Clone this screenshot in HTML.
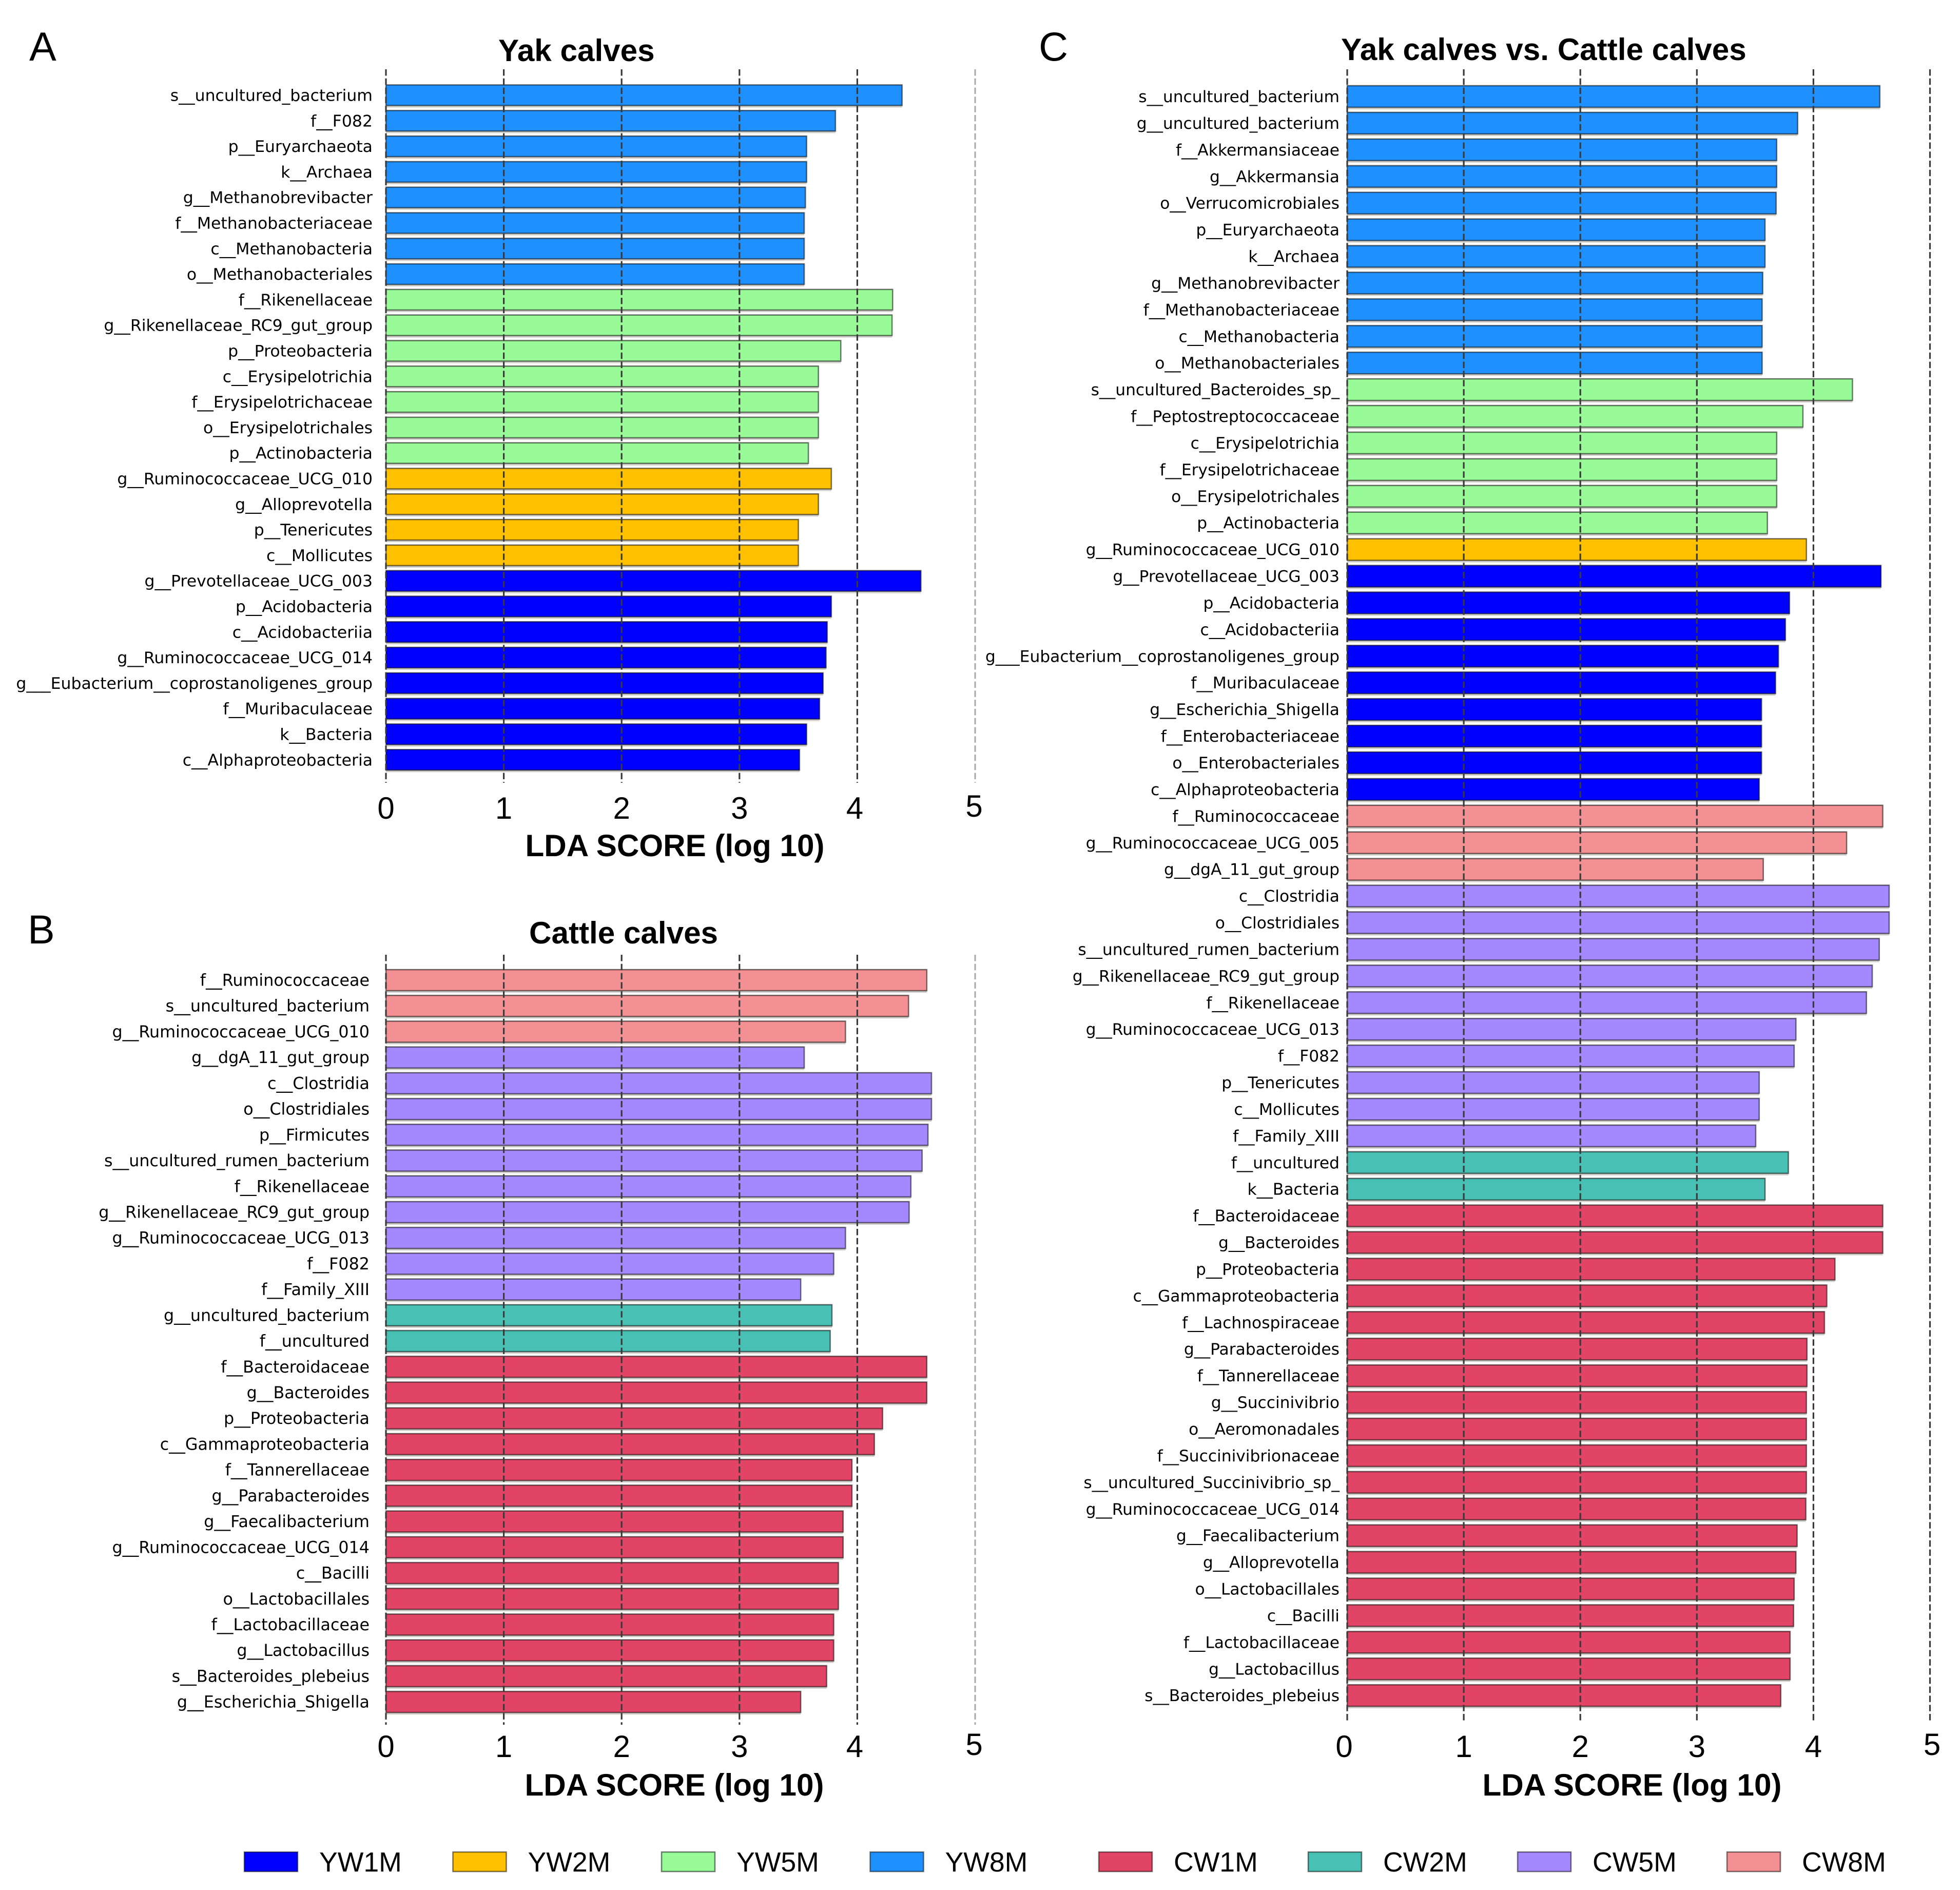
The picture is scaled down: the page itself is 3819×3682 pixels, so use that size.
<!DOCTYPE html>
<html lang="en">
<head>
<meta charset="utf-8">
<title>LDA score charts: yak calves and cattle calves</title>
<style>
  html, body { margin: 0; padding: 0; background: #fff; }
  svg { display: block; }
  text { fill: #000; }
  .taxon { font-family: "DejaVu Sans", sans-serif; text-anchor: end; }
  .tick { font-family: "Liberation Sans", sans-serif; font-size: 60px; text-anchor: middle; }
  .axis-title { font-family: "Liberation Sans", sans-serif; font-size: 60.2px; font-weight: bold; text-anchor: middle; }
  .title { font-family: "Liberation Sans", sans-serif; font-size: 60.2px; font-weight: bold; }
  .letter { font-family: "Liberation Sans", sans-serif; font-size: 79px; }
  .legend-label { font-family: "Liberation Sans", sans-serif; font-size: 53.6px; }
</style>
</head>
<body>
<svg id="chart" xmlns="http://www.w3.org/2000/svg" width="3819" height="3682" viewBox="0 0 3819 3682">
  <rect x="0" y="0" width="3819" height="3682" fill="#ffffff"/>
  <text class="letter" x="57" y="118">A</text>
  <text class="letter" x="54" y="1838">B</text>
  <text class="letter" x="2024" y="118">C</text>
  <text class="title" x="971" y="119">Yak calves</text>
  <text class="title" x="1031" y="1838">Cattle calves</text>
  <text class="title" x="2613" y="117">Yak calves vs. Cattle calves</text>
  <text class="axis-title" x="1315" y="1668">LDA SCORE (log 10)</text>
  <text class="axis-title" x="1314" y="3498">LDA SCORE (log 10)</text>
  <text class="axis-title" x="3180" y="3498">LDA SCORE (log 10)</text>
</svg>
<script>
const tickLabels = [0, 1, 2, 3, 4, 5];

const legendGroups = ["YW1M", "YW2M", "YW5M", "YW8M", "CW1M", "CW2M", "CW5M", "CW8M"];

const groupColors = {
  YW1M: "#0000ff", YW2M: "#ffc000", YW5M: "#98fb98", YW8M: "#1e90ff",
  CW1M: "#e24466", CW2M: "#48c0b4", CW5M: "#a488ff", CW8M: "#f39093"
};

const panelALabels = [
  "s__uncultured_bacterium", "f__F082", "p__Euryarchaeota", "k__Archaea", "g__Methanobrevibacter",
  "f__Methanobacteriaceae", "c__Methanobacteria", "o__Methanobacteriales",
  "f__Rikenellaceae", "g__Rikenellaceae_RC9_gut_group", "p__Proteobacteria", "c__Erysipelotrichia",
  "f__Erysipelotrichaceae", "o__Erysipelotrichales", "p__Actinobacteria",
  "g__Ruminococcaceae_UCG_010", "g__Alloprevotella", "p__Tenericutes", "c__Mollicutes",
  "g__Prevotellaceae_UCG_003", "p__Acidobacteria", "c__Acidobacteriia", "g__Ruminococcaceae_UCG_014",
  "g___Eubacterium__coprostanoligenes_group", "f__Muribaculaceae", "k__Bacteria", "c__Alphaproteobacteria"
];
const panelAValues = [
  4.38, 3.815, 3.57, 3.57, 3.56, 3.55, 3.55, 3.55,
  4.30, 4.295, 3.86, 3.67, 3.67, 3.67, 3.585,
  3.78, 3.67, 3.50, 3.50,
  4.54, 3.78, 3.745, 3.735, 3.71, 3.68, 3.57, 3.51
];
const panelAGroups = [
  "YW8M", "YW8M", "YW8M", "YW8M", "YW8M", "YW8M", "YW8M", "YW8M",
  "YW5M", "YW5M", "YW5M", "YW5M", "YW5M", "YW5M", "YW5M",
  "YW2M", "YW2M", "YW2M", "YW2M",
  "YW1M", "YW1M", "YW1M", "YW1M", "YW1M", "YW1M", "YW1M", "YW1M"
];

const panelBLabels = [
  "f__Ruminococcaceae", "s__uncultured_bacterium", "g__Ruminococcaceae_UCG_010",
  "g__dgA_11_gut_group", "c__Clostridia", "o__Clostridiales", "p__Firmicutes", "s__uncultured_rumen_bacterium",
  "f__Rikenellaceae", "g__Rikenellaceae_RC9_gut_group", "g__Ruminococcaceae_UCG_013", "f__F082", "f__Family_XIII",
  "g__uncultured_bacterium", "f__uncultured",
  "f__Bacteroidaceae", "g__Bacteroides", "p__Proteobacteria", "c__Gammaproteobacteria", "f__Tannerellaceae",
  "g__Parabacteroides", "g__Faecalibacterium", "g__Ruminococcaceae_UCG_014", "c__Bacilli", "o__Lactobacillales",
  "f__Lactobacillaceae", "g__Lactobacillus", "s__Bacteroides_plebeius", "g__Escherichia_Shigella"
];
const panelBValues = [
  4.59, 4.435, 3.90,
  3.55, 4.63, 4.63, 4.60, 4.55, 4.455, 4.44, 3.90, 3.80, 3.52,
  3.785, 3.77,
  4.59, 4.59, 4.215, 4.145, 3.955, 3.955, 3.88, 3.88, 3.84, 3.84, 3.80, 3.80, 3.74, 3.52
];
const panelBGroups = [
  "CW8M", "CW8M", "CW8M",
  "CW5M", "CW5M", "CW5M", "CW5M", "CW5M", "CW5M", "CW5M", "CW5M", "CW5M", "CW5M",
  "CW2M", "CW2M",
  "CW1M", "CW1M", "CW1M", "CW1M", "CW1M", "CW1M", "CW1M", "CW1M", "CW1M", "CW1M", "CW1M", "CW1M", "CW1M", "CW1M"
];

const panelCLabels = [
  "s__uncultured_bacterium", "g__uncultured_bacterium", "f__Akkermansiaceae", "g__Akkermansia", "o__Verrucomicrobiales",
  "p__Euryarchaeota", "k__Archaea", "g__Methanobrevibacter", "f__Methanobacteriaceae", "c__Methanobacteria", "o__Methanobacteriales",
  "s__uncultured_Bacteroides_sp_", "f__Peptostreptococcaceae", "c__Erysipelotrichia", "f__Erysipelotrichaceae", "o__Erysipelotrichales", "p__Actinobacteria",
  "g__Ruminococcaceae_UCG_010",
  "g__Prevotellaceae_UCG_003", "p__Acidobacteria", "c__Acidobacteriia", "g___Eubacterium__coprostanoligenes_group", "f__Muribaculaceae",
  "g__Escherichia_Shigella", "f__Enterobacteriaceae", "o__Enterobacteriales", "c__Alphaproteobacteria",
  "f__Ruminococcaceae", "g__Ruminococcaceae_UCG_005", "g__dgA_11_gut_group",
  "c__Clostridia", "o__Clostridiales", "s__uncultured_rumen_bacterium", "g__Rikenellaceae_RC9_gut_group", "f__Rikenellaceae",
  "g__Ruminococcaceae_UCG_013", "f__F082", "p__Tenericutes", "c__Mollicutes", "f__Family_XIII",
  "f__uncultured", "k__Bacteria",
  "f__Bacteroidaceae", "g__Bacteroides", "p__Proteobacteria", "c__Gammaproteobacteria", "f__Lachnospiraceae", "g__Parabacteroides",
  "f__Tannerellaceae", "g__Succinivibrio", "o__Aeromonadales", "f__Succinivibrionaceae", "s__uncultured_Succinivibrio_sp_",
  "g__Ruminococcaceae_UCG_014", "g__Faecalibacterium", "g__Alloprevotella", "o__Lactobacillales", "c__Bacilli",
  "f__Lactobacillaceae", "g__Lactobacillus", "s__Bacteroides_plebeius"
];
const panelCValues = [
  4.57, 3.865, 3.685, 3.685, 3.68, 3.585, 3.585, 3.565, 3.56, 3.56, 3.56,
  4.335, 3.91, 3.685, 3.685, 3.685, 3.605,
  3.94,
  4.58, 3.795, 3.76, 3.70, 3.675, 3.555, 3.555, 3.555, 3.535,
  4.595, 4.285, 3.57,
  4.65, 4.65, 4.565, 4.505, 4.455, 3.85, 3.835, 3.535, 3.535, 3.505,
  3.785, 3.585,
  4.595, 4.595, 4.185, 4.115, 4.095, 3.945, 3.945, 3.94, 3.94, 3.94, 3.94, 3.935, 3.86, 3.85, 3.835, 3.83, 3.80, 3.80, 3.72
];
const panelCGroups = [
  "YW8M", "YW8M", "YW8M", "YW8M", "YW8M", "YW8M", "YW8M", "YW8M", "YW8M", "YW8M", "YW8M",
  "YW5M", "YW5M", "YW5M", "YW5M", "YW5M", "YW5M",
  "YW2M",
  "YW1M", "YW1M", "YW1M", "YW1M", "YW1M", "YW1M", "YW1M", "YW1M", "YW1M",
  "CW8M", "CW8M", "CW8M",
  "CW5M", "CW5M", "CW5M", "CW5M", "CW5M", "CW5M", "CW5M", "CW5M", "CW5M", "CW5M",
  "CW2M", "CW2M",
  "CW1M", "CW1M", "CW1M", "CW1M", "CW1M", "CW1M", "CW1M", "CW1M", "CW1M", "CW1M", "CW1M",
  "CW1M", "CW1M", "CW1M", "CW1M", "CW1M", "CW1M", "CW1M", "CW1M"
];

const SVG_NS = "http://www.w3.org/2000/svg";
const svg = document.getElementById("chart");

function make(tag, attrs, parent) {
  const el = document.createElementNS(SVG_NS, tag);
  for (const k in attrs) el.setAttribute(k, attrs[k]);
  parent.appendChild(el);
  return el;
}

function drawPanel(id, labels, values, groups, geo) {
  const xScale = v => geo.x0 + v * geo.unit;
  const yScale = i => geo.y0 + i * geo.pitch;

  const root = make("g", {}, svg);
  
  

  labels.forEach((label, i) => {
    const top = yScale(i) - geo.barH / 2;
    const w = xScale(values[i]) - xScale(0);

    const halo = make("rect", { x: xScale(0), y: top - 1, width: w, height: geo.barH + 5, fill: "#d0cec9" }, root);
    
    

    const bar = make("rect", {
      x: xScale(0), y: top, width: w, height: geo.barH,
      fill: groupColors[groups[i]], stroke: "#000", "stroke-opacity": 0.5, "stroke-width": 2.6
    }, root);
    
    

    const text = make("text", {
      class: "taxon", x: geo.labelX, y: yScale(i) + 11, "font-size": geo.labelSize
    }, root);
    
    
    text.textContent = label;
  });

  tickLabels.forEach(t => {
    const light = t === 5 && geo.lightLast;
    const line = make("line", {
      x1: xScale(t), x2: xScale(t), y1: geo.top, y2: geo.bottom,
      stroke: light ? "#a8a8a8" : "#3a3a3a",
      "stroke-width": light ? 3 : 3.2,
      "stroke-dasharray": "12.5 5.3"
    }, root);
    
    

    const tick = make("text", {
      class: "tick", x: xScale(t) + (geo.tickShift[t] || 0),
      y: t === 5 ? geo.tickY - 4 : geo.tickY
    }, root);
    
    
    tick.textContent = t;
  });
}

drawPanel("a", panelALabels, panelAValues, panelAGroups, {
  x0: 752, unit: 229.6, y0: 185.5, pitch: 49.8, barH: 40, labelSize: 31.5,
  labelX: 726, top: 135, bottom: 1525, tickY: 1595, lightLast: true,
  tickShift: { 4: -5, 5: -2 }
});
drawPanel("b", panelBLabels, panelBValues, panelBGroups, {
  x0: 752, unit: 229.6, y0: 1909.5, pitch: 50.22, barH: 41, labelSize: 31.75,
  labelX: 720, top: 1860, bottom: 3360, tickY: 3423, lightLast: true,
  tickShift: { 4: -5, 5: -2 }
});
drawPanel("c", panelCLabels, panelCValues, panelCGroups, {
  x0: 2625, unit: 227.1, y0: 188, pitch: 51.92, barH: 42, labelSize: 31.3,
  labelX: 2610, top: 135, bottom: 3355, tickY: 3423, lightLast: false,
  tickShift: { 0: -6, 5: 4 }
});

const legendSwatchX = v => legendGroups.indexOf(v) < 4
  ? 476 + legendGroups.indexOf(v) * 406.5
  : 2141 + (legendGroups.indexOf(v) - 4) * 408;

legendGroups.forEach(name => {
  const x = legendSwatchX(name);
  const entry = make("g", {}, svg);
  
  

  const swatch = make("rect", {
    x: x, y: 3608, width: 104, height: 38,
    fill: groupColors[name], stroke: "#000", "stroke-opacity": 0.5, "stroke-width": 2.6
  }, entry);
  
  

  const label = make("text", { class: "legend-label", x: x + 146, y: 3646 }, entry);
  
  
  label.textContent = name;
});
</script>
</body>
</html>
